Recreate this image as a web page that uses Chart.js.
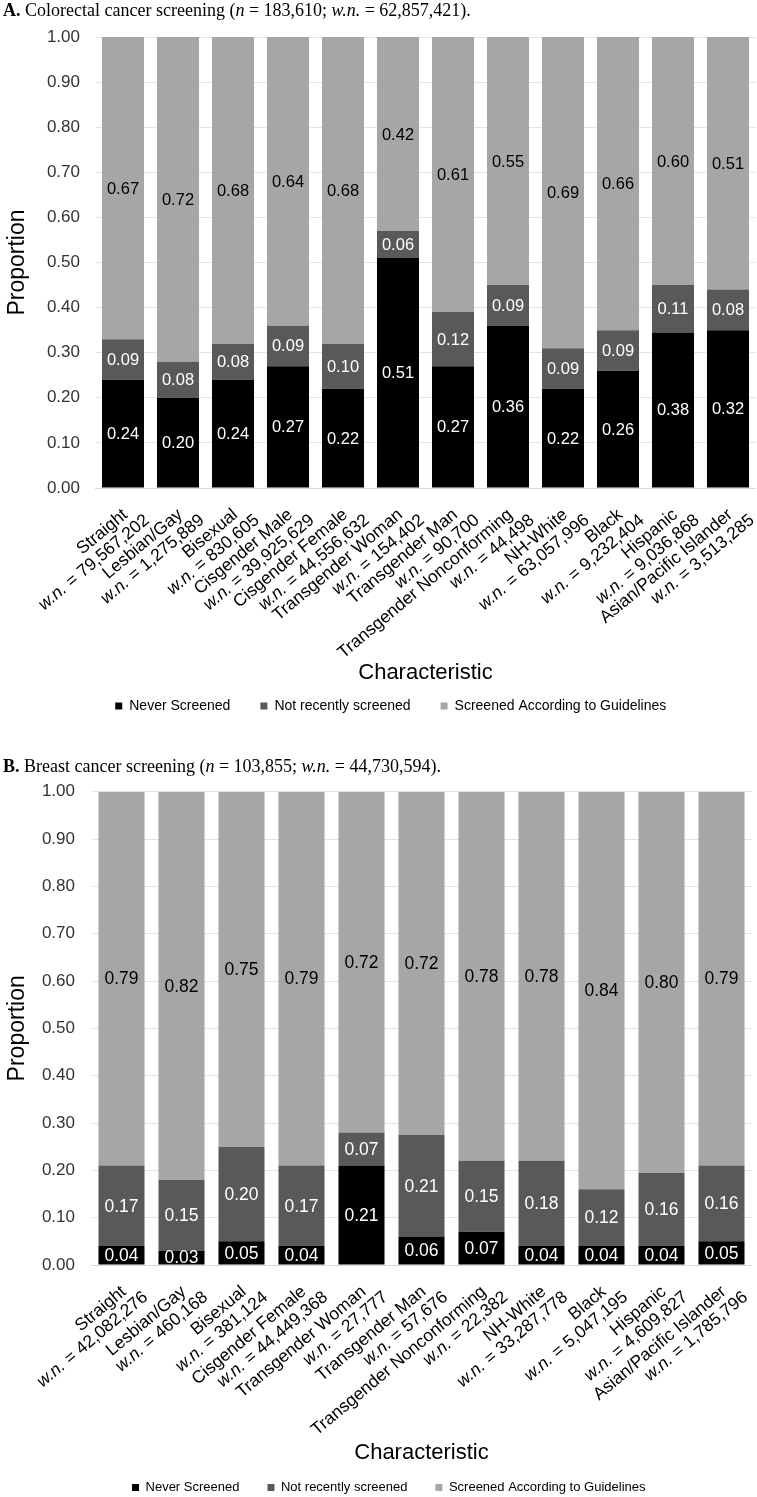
<!DOCTYPE html>
<html><head><meta charset="utf-8">
<script src="https://cdn.jsdelivr.net/npm/chart.js@4.4.1/dist/chart.umd.min.js"></script>
<style>
html,body{margin:0;padding:0;background:#fff;width:757px;height:1497px;overflow:hidden;position:relative}
.cap{position:absolute;left:3px;font-family:"Liberation Serif","Times New Roman",serif;font-size:18px;color:#000;white-space:nowrap;line-height:20px}
canvas{position:absolute;left:0}
</style></head><body>
<canvas id="ca" width="757" height="723" style="top:0"></canvas>
<canvas id="cb" width="757" height="759" style="top:745px"></canvas>
<div class="cap" style="top:0"><b>A.</b> Colorectal cancer screening (<i>n</i> = 183,610; <i>w.n.</i> = 62,857,421).</div>
<div class="cap" style="top:756px"><b>B.</b> Breast cancer screening (<i>n</i> = 103,855; <i>w.n.</i> = 44,730,594).</div>
<script>
// ---------- Panel A data ----------
const categoriesA = ["Straight","Lesbian/Gay","Bisexual","Cisgender Male","Cisgender Female","Transgender Woman","Transgender Man","Transgender Nonconforming","NH-White","Black","Hispanic","Asian/Pacific Islander"];
const weightedNA = ["79,567,202","1,275,889","830,605","39,925,629","44,556,632","154,402","90,700","44,498","63,057,996","9,232,404","9,036,868","3,513,285"];
const neverA = [0.24,0.20,0.24,0.27,0.22,0.51,0.27,0.36,0.22,0.26,0.345,0.35];
const notRecentA = [0.09,0.08,0.08,0.09,0.10,0.06,0.12,0.09,0.09,0.09,0.105,0.09];
const guidelinesA = [0.67,0.72,0.68,0.64,0.68,0.43,0.61,0.55,0.69,0.65,0.55,0.56];
const neverLabelsA = ["0.24","0.20","0.24","0.27","0.22","0.51","0.27","0.36","0.22","0.26","0.38","0.32"];
const notRecentLabelsA = ["0.09","0.08","0.08","0.09","0.10","0.06","0.12","0.09","0.09","0.09","0.11","0.08"];
const guidelinesLabelsA = ["0.67","0.72","0.68","0.64","0.68","0.42","0.61","0.55","0.69","0.66","0.60","0.51"];

// ---------- Panel B data ----------
const categoriesB = ["Straight","Lesbian/Gay","Bisexual","Cisgender Female","Transgender Woman","Transgender Man","Transgender Nonconforming","NH-White","Black","Hispanic","Asian/Pacific Islander"];
const weightedNB = ["42,082,276","460,168","381,124","44,449,368","27,777","57,676","22,382","33,287,778","5,047,195","4,609,827","1,785,796"];
const neverB = [0.04,0.03,0.05,0.04,0.21,0.06,0.07,0.04,0.04,0.04,0.05];
const notRecentB = [0.17,0.15,0.20,0.17,0.07,0.215,0.15,0.18,0.12,0.155,0.16];
const guidelinesB = [0.79,0.82,0.75,0.79,0.72,0.725,0.78,0.78,0.84,0.805,0.79];
const neverLabelsB = ["0.04","0.03","0.05","0.04","0.21","0.06","0.07","0.04","0.04","0.04","0.05"];
const notRecentLabelsB = ["0.17","0.15","0.20","0.17","0.07","0.21","0.15","0.18","0.12","0.16","0.16"];
const guidelinesLabelsB = ["0.79","0.82","0.75","0.79","0.72","0.72","0.78","0.78","0.84","0.80","0.79"];

const seriesNames = ["Never Screened","Not recently screened","Screened According to Guidelines"];
const yTicks = [0,0.1,0.2,0.3,0.4,0.5,0.6,0.7,0.8,0.9,1.0];

const FAM = '"Liberation Sans", Arial, Helvetica, sans-serif';

const segLabelPlugin = {
  id: 'segLabels',
  afterDatasetsDraw(chart, args, opts) {
    const ctx = chart.ctx, ca = chart.chartArea;
    ctx.save();
    ctx.font = opts.size + 'px ' + FAM;
    ctx.textAlign = 'center';
    ctx.textBaseline = 'middle';
    chart.data.datasets.forEach((ds, d) => {
      const meta = chart.getDatasetMeta(d);
      meta.data.forEach((el, i) => {
        const top = Math.max(el.y, ca.top);
        const base = Math.min(el.base, ca.bottom);
        ctx.fillStyle = ds.labelColor;
        ctx.fillText(ds.valueLabels[i], el.x, (top + base) / 2 + 1);
      });
    });
    ctx.restore();
  }
};

const xLabelPlugin = {
  id: 'xLabels',
  afterDraw(chart, args, opts) {
    const ctx = chart.ctx, xs = chart.scales.x, axisY = chart.chartArea.bottom;
    const ang = opts.angle * Math.PI / 180;
    ctx.save();
    ctx.fillStyle = '#000';
    ctx.textBaseline = 'middle';
    ctx.textAlign = 'right';
    chart.data.labels.forEach((name, i) => {
      const x = xs.getPixelForTick(i);
      ctx.save();
      ctx.translate(x + opts.dx, axisY + opts.dy);
      ctx.rotate(-ang);
      ctx.font = opts.size + 'px ' + FAM;
      ctx.fillText(name, -opts.shift, -opts.lineGap);
      const rest = ' = ' + opts.counts[i];
      ctx.fillText(rest, 0, 0);
      const w = ctx.measureText(rest).width;
      ctx.font = 'italic ' + opts.size + 'px ' + FAM;
      ctx.fillText('w.n.', -w, 0);
      ctx.restore();
    });
    ctx.restore();
  }
};

function buildConfig(p) {
  return {
    type: 'bar',
    data: {
      labels: p.categories,
      datasets: [
        {label: seriesNames[0], data: p.never, backgroundColor: '#000000', valueLabels: p.neverLabels, labelColor: '#ffffff'},
        {label: seriesNames[1], data: p.notRecent, backgroundColor: '#595959', valueLabels: p.notRecentLabels, labelColor: '#ffffff'},
        {label: seriesNames[2], data: p.guidelines, backgroundColor: '#a6a6a6', valueLabels: p.guidelinesLabels, labelColor: '#000000'}
      ]
    },
    options: {
      responsive: false, animation: false, devicePixelRatio: 1,
      layout: {padding: {top: p.padTop, right: p.padRight, left: 26, bottom: 0}},
      datasets: {bar: {barPercentage: p.barPct, categoryPercentage: 1, borderWidth: 0}},
      plugins: {
        legend: {position: 'bottom', labels: {boxWidth: 7, boxHeight: 7, padding: p.legendPad, color: '#000', font: {family: FAM, size: p.legendSize}}},
        tooltip: {enabled: false},
        segLabels: {size: p.valSize},
        xLabels: {angle: 40, dx: 24, dy: 30, size: 17.5, lineGap: 18, shift: 13, counts: p.counts}
      },
      scales: {
        x: {
          stacked: true,
          grid: {display: false},
          border: {color: '#d9d9d9'},
          ticks: {display: false},
          title: {display: true, text: 'Characteristic', color: '#000', font: {family: FAM, size: 22}, padding: {top: 0, bottom: p.xTitlePad}},
          afterFit(s) { s.height = p.xHeight; }
        },
        y: {
          stacked: true, min: 0, max: 1,
          afterBuildTicks(s) { s.ticks = yTicks.map(v => ({value: v})); },
          ticks: {callback: v => v.toFixed(2), padding: p.yTickPad, color: '#333', font: {family: FAM, size: 17}},
          grid: {color: '#e4e4e4', drawTicks: false},
          border: {display: false},
          title: {display: true, text: 'Proportion', color: '#000', font: {family: FAM, size: 23}, padding: {top: -22, bottom: 4}},
          afterFit(s) { s.width = p.yWidth; }
        }
      }
    },
    plugins: [segLabelPlugin, xLabelPlugin]
  };
}

new Chart(document.getElementById('ca'), buildConfig({
  categories: categoriesA, counts: weightedNA,
  never: neverA, notRecent: notRecentA, guidelines: guidelinesA,
  neverLabels: neverLabelsA, notRecentLabels: notRecentLabelsA, guidelinesLabels: guidelinesLabelsA,
  padTop: 37, padRight: 1.5, yWidth: 69.5, yTickPad: 15.5, xHeight: 181, xTitlePad: -17,
  barPct: 0.764, legendPad: 30, legendSize: 14, valSize: 16.5
}));

new Chart(document.getElementById('cb'), buildConfig({
  categories: categoriesB, counts: weightedNB,
  never: neverB, notRecent: notRecentB, guidelines: guidelinesB,
  neverLabels: neverLabelsB, notRecentLabels: notRecentLabelsB, guidelinesLabels: guidelinesLabelsB,
  padTop: 46.7, padRight: 5.5, yWidth: 65.5, yTickPad: 16.5, xHeight: 188, xTitlePad: -13,
  barPct: 0.767, legendPad: 28, legendSize: 13, valSize: 17.5
}));
</script>
</body></html>
